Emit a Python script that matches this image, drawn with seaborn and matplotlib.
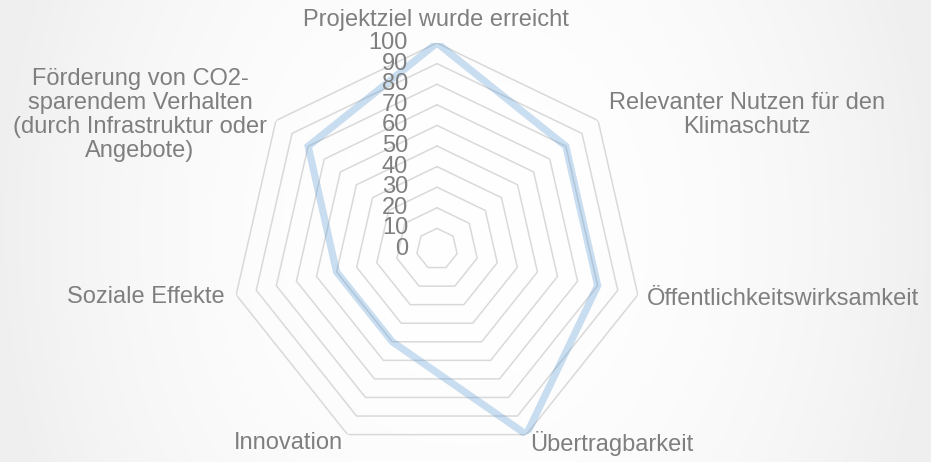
import numpy as np
import pandas as pd
import matplotlib
matplotlib.use("Agg")
import matplotlib.pyplot as plt
from matplotlib.transforms import offset_copy
import seaborn as sns

# Bewertungskategorien (im Uhrzeigersinn, oben beginnend)
categories = [
    "Projektziel wurde erreicht",
    "Relevanter Nutzen für den\nKlimaschutz",
    "Öffentlichkeitswirksamkeit",
    "Übertragbarkeit",
    "Innovation",
    "Soziale Effekte",
    "Förderung von CO2-\nsparendem Verhalten\n(durch Infrastruktur oder\nAngebote)",
]
scores = [100, 80, 80, 100, 50, 50, 80]
ring_values = [10, 20, 30, 40, 50, 60, 70, 80, 90, 100]
tick_labels = ["0", "10", "20", "30", "40", "50", "60", "70", "80", "90", "100"]

sns.set_theme(style="white")
plt.rcParams["font.family"] = ["Liberation Sans", "DejaVu Sans"]

text_color = "#7f7f7f"
grid_color = "#d9d9d9"
line_color = "#5b9bd5"

fig = plt.figure(figsize=(9.31, 4.62), dpi=100)

# sanfter Hintergrundverlauf zu den Seiten hin
bg = fig.add_axes([0, 0, 1, 1], zorder=-10)
gx = np.linspace(-1, 1, 400)
gy = np.linspace(-1, 1, 200)
GX, GY = np.meshgrid(gx, gy)
shade = 1.0 - 0.06 * np.clip(np.abs(GX) ** 2.2 + 0.15 * GY ** 2, 0, 1)
bg.imshow(np.dstack([shade, shade, shade]), aspect="auto", extent=[0, 1, 0, 1])
bg.set_axis_off()

W, H = 931, 462
cx, cy, R = 437, 249, 206
ax = fig.add_axes([(cx - R) / W, (H - cy - R) / H, 2 * R / W, 2 * R / H],
                  projection="polar")
ax.patch.set_alpha(0)
ax.set_theta_zero_location("N")
ax.set_theta_direction(-1)
ax.set_ylim(0, 100)
ax.grid(False)
ax.spines["polar"].set_visible(False)

n = len(categories)
angles = np.linspace(0, 2 * np.pi, n, endpoint=False)
closed = np.append(angles, 2 * np.pi)

# siebeneckige Gitterlinien
for v in ring_values:
    ax.plot(closed, [v] * (n + 1), color=grid_color, lw=1.1, zorder=1)

# Datenlinie (geschlossener Linienzug)
df = pd.DataFrame({"winkel": closed, "wert": scores + scores[:1]})
sns.lineplot(data=df, x="winkel", y="wert", ax=ax, sort=False,
             estimator=None, color=line_color, lw=5.2, alpha=0.32,
             zorder=3, solid_joinstyle="miter")
ax.set_xlabel("")
ax.set_ylabel("")
ax.set_xticks([])
ax.set_yticks([])
ax.set_ylim(0, 100)

# Skalenbeschriftung entlang der senkrechten Achse
tick_tr = offset_copy(ax.transData, fig=fig, x=-29, y=0, units="dots")
for lab in tick_labels:
    ax.text(0, float(lab), lab, transform=tick_tr, ha="right", va="center",
            fontsize=17, color=text_color, zorder=4)

# Kategoriebeschriftungen
label_pos = [
    (0, 436, 20, "center", "center"),
    (1, 747, 115, "center", "center"),
    (2, 647, 299, "left", "center"),
    (3, 530, 443, "left", "center"),
    (4, 343, 443, "right", "center"),
    (5, 225, 297, "right", "center"),
    (6, 140, 115, "center", "center"),
]
for i, px, py, ha, va in label_pos:
    fig.text(px / W, 1 - py / H, categories[i], ha=ha, va=va,
             multialignment="center", fontsize=17, color=text_color,
             linespacing=1.1)

fig.savefig("out.png", dpi=100)
